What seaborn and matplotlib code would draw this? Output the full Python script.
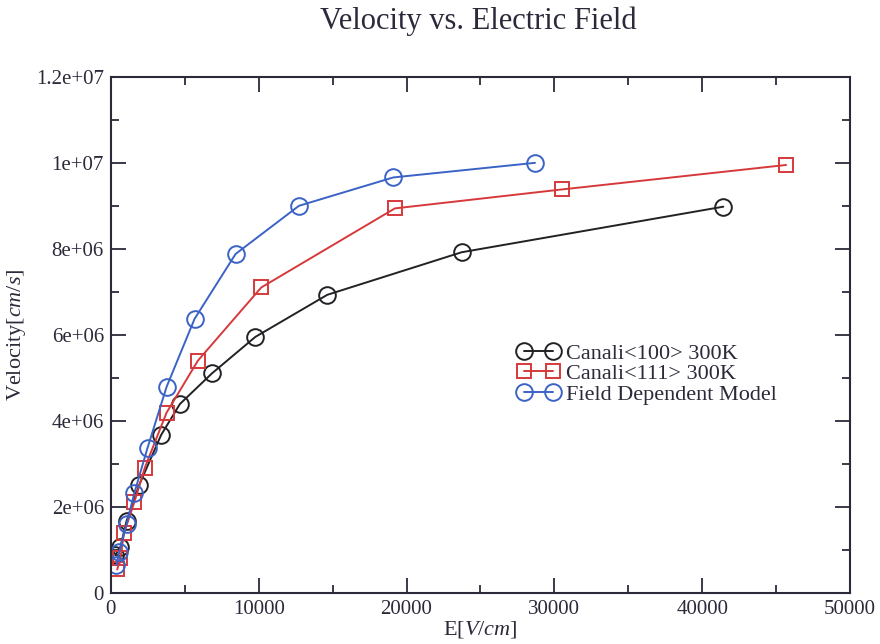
import matplotlib
matplotlib.use("Agg")
import matplotlib.pyplot as plt
import seaborn as sns
import pandas as pd
from matplotlib.ticker import MultipleLocator, FuncFormatter

# Data (E in V/cm, velocity in cm/s)
e_100 = [300, 650, 1060, 1920, 3400, 4670, 6830, 9770, 14640, 23730, 41430]
v_100 = [0.88e6, 1.08e6, 1.68e6, 2.52e6, 3.68e6, 4.40e6, 5.11e6, 5.96e6, 6.94e6, 7.93e6, 8.99e6]

e_111 = [430, 650, 880, 1580, 2300, 3770, 5890, 10170, 19210, 30490, 45670]
v_111 = [0.55e6, 0.82e6, 1.39e6, 2.11e6, 2.92e6, 4.20e6, 5.41e6, 7.11e6, 8.95e6, 9.39e6, 9.96e6]

e_fd = [380, 570, 1060, 1580, 2480, 3770, 5660, 8435, 12720, 19100, 28690]
v_fd = [0.65e6, 0.96e6, 1.60e6, 2.32e6, 3.38e6, 4.80e6, 6.38e6, 7.89e6, 9.01e6, 9.67e6, 10.01e6]

labels = ["Canali<100> 300K", "Canali<111> 300K", "Field Dependent Model"]

sns.set_theme(style="ticks")
plt.rcParams["font.family"] = ["Liberation Serif", "DejaVu Serif"]
plt.rcParams["mathtext.fontset"] = "custom"
plt.rcParams["mathtext.rm"] = "Liberation Serif"
plt.rcParams["mathtext.it"] = "Liberation Serif:italic"

fig = plt.figure(figsize=(8.8, 6.44), dpi=100)
ax = fig.add_axes([0.126, 0.079, 0.840, 0.801])

series = [
    (e_100, v_100, labels[0], "#222226", "o", 12),
    (e_111, v_111, labels[1], "#d6393b", "s", 10),
    (e_fd, v_fd, labels[2], "#3b63c6", "o", 12),
]
for e, v, lab, col, mk, ms in series:
    df = pd.DataFrame({"E": e, "V": v})
    sns.lineplot(data=df, x="E", y="V", ax=ax, sort=False, estimator=None,
                 color=col, marker=mk, markersize=ms, markerfacecolor="none",
                 markeredgecolor=col, markeredgewidth=1.4, linewidth=1.4,
                 label=lab)

ax.set_xlim(0, 50000)
ax.set_ylim(0, 1.2e7)
ax.xaxis.set_major_locator(MultipleLocator(10000))
ax.xaxis.set_minor_locator(MultipleLocator(5000))
ax.yaxis.set_major_locator(MultipleLocator(2e6))
ax.yaxis.set_minor_locator(MultipleLocator(1e6))
ax.yaxis.set_major_formatter(FuncFormatter(lambda v, p: "%g" % v))
ax.xaxis.set_major_formatter(FuncFormatter(lambda v, p: "%d" % v))

ax.tick_params(which="both", direction="in", top=True, right=True,
               labelsize=15, colors="#2a2a3a", width=1.3)
ax.tick_params(which="major", length=11, pad=5)
ax.tick_params(which="minor", length=6)
for s in ax.spines.values():
    s.set_visible(True)
    s.set_linewidth(1.5)
    s.set_color("#2a2a3a")

ax.set_xlabel(r"E[$\mathit{V/cm}$]", fontsize=16, color="#2a2a3a", labelpad=0)
ax.set_ylabel(r"Velocity[$\mathit{cm/s}$]", fontsize=16, color="#2a2a3a", labelpad=6)
fig.text(0.543, 0.99, "Velocity vs. Electric Field", ha="center", va="top",
         fontsize=22, color="#2a2a3a")

leg = ax.legend(loc="upper left", bbox_to_anchor=(0.538, 0.502), frameon=False,
                fontsize=16, numpoints=2, handlelength=1.9, handletextpad=0.3,
                labelspacing=0.0, borderaxespad=0)
for t in leg.get_texts():
    t.set_color("#2a2a3a")

fig.savefig("out.png", dpi=100)
